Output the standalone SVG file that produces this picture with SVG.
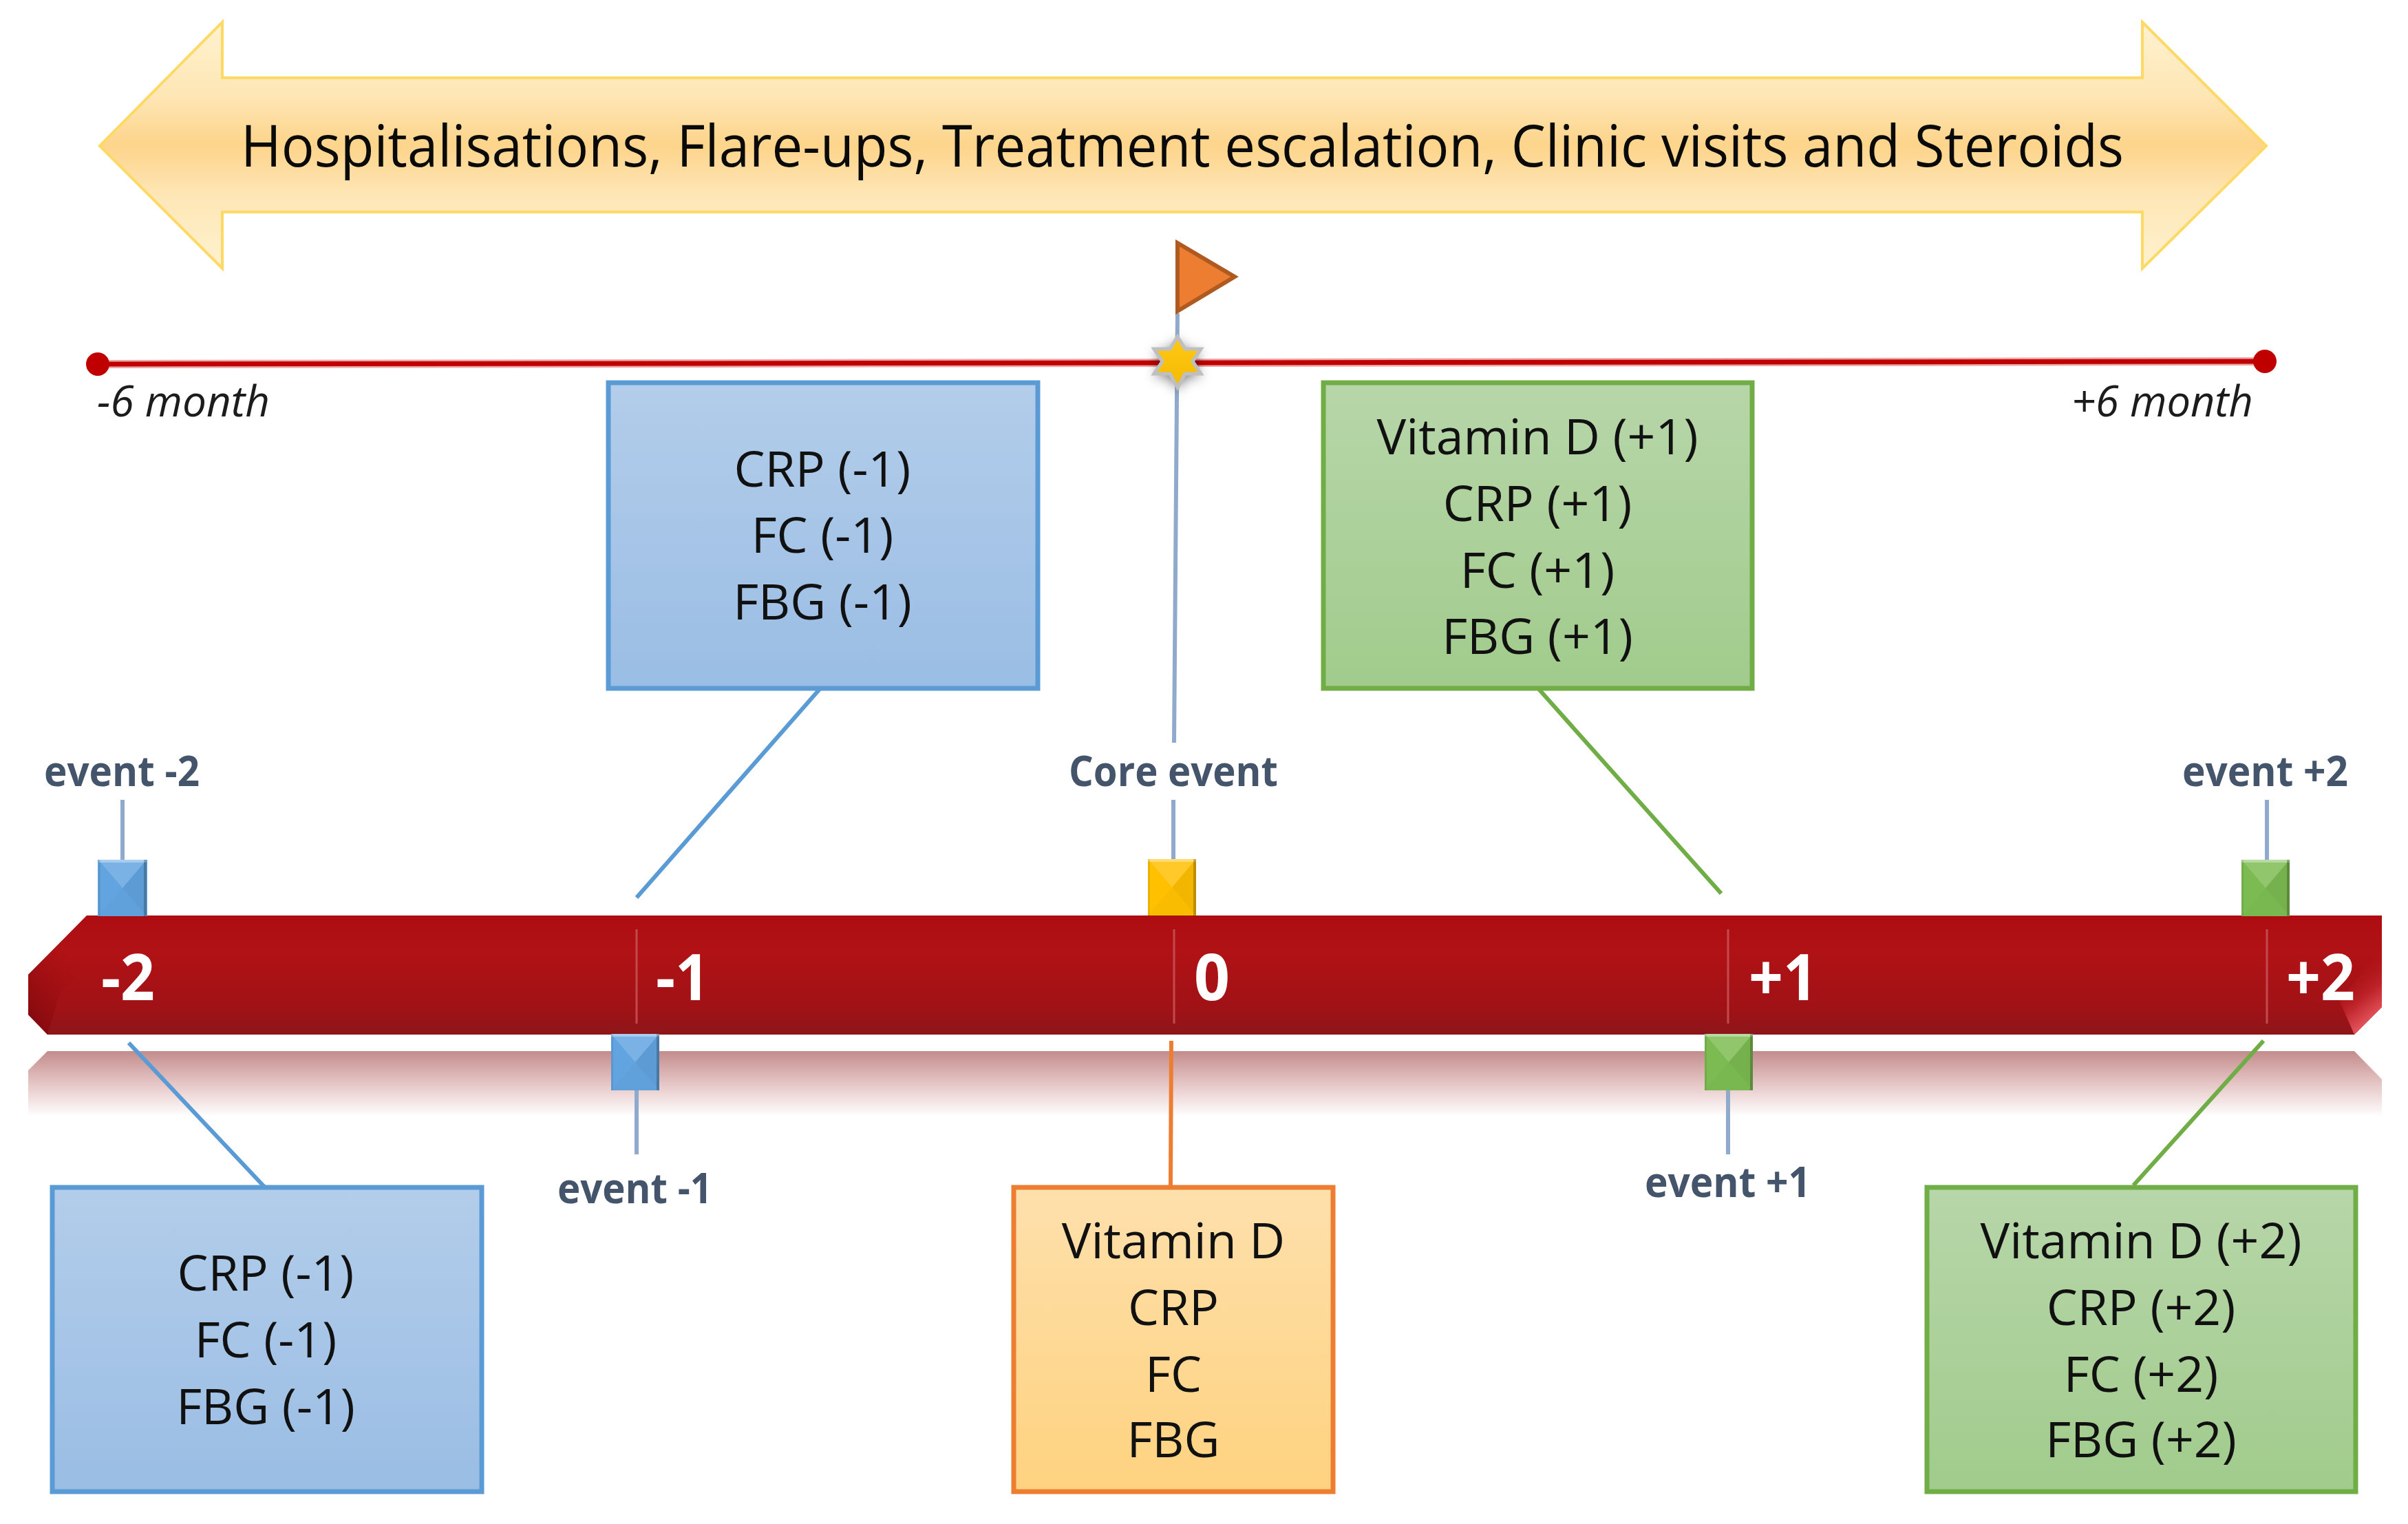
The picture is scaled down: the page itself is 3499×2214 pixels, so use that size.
<svg xmlns="http://www.w3.org/2000/svg" width="3499" height="2214" viewBox="0 0 3499 2214">
<style>
text{font-family:"Open Sans","Noto Sans","Liberation Sans",sans-serif}
.title{font-size:85px;fill:#0a0a0a}
.body{font-size:71.5px;fill:#111;text-anchor:middle}
.month{font-size:63px;font-style:italic;fill:#1c1c1c}
.ev{font-size:60px;font-weight:700;fill:#44546a}
.num{font-size:93px;font-weight:700;fill:#fff}
.stem{stroke:#8faacc;stroke-width:6;fill:none}
.tick{stroke:#c4494d;stroke-width:3;fill:none}
.lead{stroke-width:6;fill:none}
.box{stroke-width:7}
</style>
<defs>
<linearGradient id="banner" x1="0" y1="0" x2="0" y2="1"><stop offset="0" stop-color="#fff2cf"/><stop offset=".3" stop-color="#fee6b5"/><stop offset=".5" stop-color="#fdd48a"/><stop offset=".7" stop-color="#fee6b5"/><stop offset="1" stop-color="#fff2cf"/></linearGradient>
<linearGradient id="bar" x1="0" y1="0" x2="0" y2="1"><stop offset="0" stop-color="#ad0d10"/><stop offset=".3" stop-color="#b11215"/><stop offset=".8" stop-color="#9f1216"/><stop offset="1" stop-color="#8c161a"/></linearGradient>
<linearGradient id="mirror" x1="0" y1="0" x2="0" y2="1"><stop offset="0" stop-color="#c38c8c"/><stop offset=".5" stop-color="#e6c6c6"/><stop offset="1" stop-color="#ffffff"/></linearGradient>
<linearGradient id="leftEnd" gradientUnits="userSpaceOnUse" x1="45" y1="1480" x2="130" y2="1420"><stop offset="0" stop-color="#860a0e"/><stop offset="1" stop-color="#ac0f12" stop-opacity="0"/></linearGradient>
<linearGradient id="rightEnd" gradientUnits="userSpaceOnUse" x1="3443" y1="1485" x2="3395" y2="1425"><stop offset="0" stop-color="#e5545c"/><stop offset=".45" stop-color="#bc2228"/><stop offset="1" stop-color="#b11215" stop-opacity="0"/></linearGradient>
<linearGradient id="bluebox" x1="0" y1="0" x2="0" y2="1"><stop offset="0" stop-color="#b3cdea"/><stop offset="1" stop-color="#9abde4"/></linearGradient>
<linearGradient id="greenbox" x1="0" y1="0" x2="0" y2="1"><stop offset="0" stop-color="#b7d6a9"/><stop offset="1" stop-color="#a1cb8c"/></linearGradient>
<linearGradient id="orangebox" x1="0" y1="0" x2="0" y2="1"><stop offset="0" stop-color="#fee0ac"/><stop offset="1" stop-color="#fed27f"/></linearGradient>
<linearGradient id="starFill" x1="0" y1="0" x2="0" y2="1"><stop offset="0" stop-color="#ffc815"/><stop offset="1" stop-color="#f3bb00"/></linearGradient>
<filter id="soft" x="-50%" y="-50%" width="200%" height="200%"><feGaussianBlur stdDeviation="9"/></filter>
<g id="bevel">
<polygon points="0,0 70,0 35,41" fill="#fff" fill-opacity=".16"/>
<polygon points="70,0 70,82 35,41" fill="#000" fill-opacity=".05"/>
<polygon points="0,82 70,82 35,41" fill="#000" fill-opacity=".02"/>
<rect x="0" y="0" width="70" height="4" fill="#fff" fill-opacity=".35"/>
<rect x="66" y="0" width="4" height="82" fill="#000" fill-opacity=".22"/>
<rect x="0" y="0" width="3" height="82" fill="#000" fill-opacity=".08"/>
</g>
</defs>

<g id="banner-arrow">
<polygon points="145,212 323,32 323,113 3113,113 3113,32 3293,212 3113,390 3113,308 323,308 323,390" fill="url(#banner)" stroke="#ffd966" stroke-width="4"/>
<text class="title" x="350" y="242" textLength="2736" lengthAdjust="spacingAndGlyphs">Hospitalisations, Flare-ups, Treatment escalation, Clinic visits and Steroids</text>
</g>

<g id="period-line">
<line x1="142" y1="529" x2="3291" y2="525" stroke="#eda6a6" stroke-width="12"/>
<line x1="142" y1="529" x2="3291" y2="525" stroke="#c00000" stroke-width="7"/>
<circle cx="142" cy="529" r="17" fill="#c00000"/>
<circle cx="3291" cy="525" r="17" fill="#c00000"/>
<text class="month" x="141" y="605" textLength="251" lengthAdjust="spacingAndGlyphs">-6 month</text>
<text class="month" x="3010" y="605" textLength="264" lengthAdjust="spacingAndGlyphs">+6 month</text>
</g>

<g id="timeline-reflection">
<polygon points="69,1527 3421,1527 3461,1568 3461,1622 41,1622 41,1555" fill="url(#mirror)"/>
</g>

<g id="timeline-bar">
<polygon points="126,1330 3461,1330 3461,1463 3421,1503 69,1503 41,1474 41,1416" fill="url(#bar)"/>
<polygon points="126,1330 41,1416 41,1474 69,1503 88,1440 150,1390" fill="url(#leftEnd)"/>
<polygon points="3461,1375 3461,1463 3421,1503 3400,1455" fill="url(#rightEnd)"/>
<line class="tick" x1="925" y1="1350" x2="925" y2="1487"/>
<line class="tick" x1="1706" y1="1350" x2="1706" y2="1487"/>
<line class="tick" x1="2511" y1="1350" x2="2511" y2="1487"/>
<line class="tick" x1="3294" y1="1350" x2="3294" y2="1487"/>
<text class="num" x="147" y="1453" textLength="78" lengthAdjust="spacingAndGlyphs">-2</text>
<text class="num" x="953" y="1453" textLength="78" lengthAdjust="spacingAndGlyphs">-1</text>
<text class="num" x="1735" y="1453" textLength="52" lengthAdjust="spacingAndGlyphs">0</text>
<text class="num" x="2541" y="1453" textLength="100" lengthAdjust="spacingAndGlyphs">+1</text>
<text class="num" x="3322" y="1453" textLength="100" lengthAdjust="spacingAndGlyphs">+2</text>
</g>

<g id="connectors">
<line class="lead" x1="1192" y1="1000" x2="925" y2="1304" stroke="#5b9bd5"/>
<line class="lead" x1="2235" y1="1000" x2="2501" y2="1298" stroke="#70ad47"/>
<line class="lead" x1="187" y1="1515" x2="385" y2="1725" stroke="#5b9bd5"/>
<line class="lead" x1="1702" y1="1512" x2="1701" y2="1722" stroke="#ed7d31"/>
<line class="lead" x1="3289" y1="1512" x2="3100" y2="1722" stroke="#70ad47"/>
<line class="stem" x1="1711" y1="455" x2="1706" y2="1079"/>
<line class="stem" x1="1705" y1="1162" x2="1705" y2="1248"/>
<line class="stem" x1="178" y1="1162" x2="178" y2="1249"/>
<line class="stem" x1="925" y1="1584" x2="925" y2="1677"/>
<line class="stem" x1="2511" y1="1584" x2="2511" y2="1677"/>
<line class="stem" x1="3294" y1="1162" x2="3294" y2="1249"/>
</g>

<g id="core-flag">
<polygon points="1711,353 1711,452 1794,402" fill="#ed7d31" stroke="#ae5a21" stroke-width="6"/>
<polygon points="1711,493 1722,511 1745,511 1733,529 1745,547 1722,547 1711,567 1700,547 1677,547 1689,529 1677,511 1700,511" fill="#000" fill-opacity=".55" filter="url(#soft)"/>
<polygon points="1711,489 1722,507 1745,507 1733,525 1745,543 1722,543 1711,563 1700,543 1677,543 1689,525 1677,507 1700,507" fill="url(#starFill)" stroke="#bfbfbf" stroke-width="5"/>
</g>

<g id="event-minus-2">
<text class="ev" x="64" y="1142" textLength="226" lengthAdjust="spacingAndGlyphs">event -2</text>
<rect x="142" y="1249" width="72" height="82" fill="#62a4e0"/><use href="#bevel" x="143" y="1249"/>
</g>
<g id="event-minus-1">
<rect x="888" y="1502" width="70" height="82" fill="#62a4e0"/><use href="#bevel" x="888" y="1502"/>
<text class="ev" x="810" y="1748" textLength="225" lengthAdjust="spacingAndGlyphs">event -1</text>
</g>
<g id="event-core">
<text class="ev" x="1553" y="1142" textLength="304" lengthAdjust="spacingAndGlyphs">Core event</text>
<rect x="1668" y="1248" width="70" height="82" fill="#ffc000"/><use href="#bevel" x="1668" y="1248"/>
</g>
<g id="event-plus-1">
<rect x="2477" y="1502" width="70" height="82" fill="#7cbb52"/><use href="#bevel" x="2477" y="1502"/>
<text class="ev" x="2390" y="1739" textLength="241" lengthAdjust="spacingAndGlyphs">event +1</text>
</g>
<g id="event-plus-2">
<text class="ev" x="3171" y="1142" textLength="241" lengthAdjust="spacingAndGlyphs">event +2</text>
<rect x="3257" y="1249" width="70" height="82" fill="#7cbb52"/><use href="#bevel" x="3257" y="1249"/>
</g>

<g id="box-before-1">
<rect class="box" x="884" y="556" width="624" height="444" fill="url(#bluebox)" stroke="#5b9bd5"/>
<text class="body" x="1195" y="707">CRP (-1)</text>
<text class="body" x="1195" y="803">FC (-1)</text>
<text class="body" x="1195" y="900">FBG (-1)</text>
</g>
<g id="box-after-1">
<rect class="box" x="1923" y="556" width="623" height="444" fill="url(#greenbox)" stroke="#70ad47"/>
<text class="body" x="2234" y="660">Vitamin D (+1)</text>
<text class="body" x="2234" y="757">CRP (+1)</text>
<text class="body" x="2234" y="854">FC (+1)</text>
<text class="body" x="2234" y="950">FBG (+1)</text>
</g>
<g id="box-before-2">
<rect class="box" x="76" y="1725" width="624" height="442" fill="url(#bluebox)" stroke="#5b9bd5"/>
<text class="body" x="386" y="1875">CRP (-1)</text>
<text class="body" x="386" y="1972">FC (-1)</text>
<text class="body" x="386" y="2069">FBG (-1)</text>
</g>
<g id="box-core">
<rect class="box" x="1473" y="1725" width="464" height="442" fill="url(#orangebox)" stroke="#ed7d31"/>
<text class="body" x="1705" y="1828">Vitamin D</text>
<text class="body" x="1705" y="1925">CRP</text>
<text class="body" x="1705" y="2022">FC</text>
<text class="body" x="1705" y="2117">FBG</text>
</g>
<g id="box-after-2">
<rect class="box" x="2800" y="1725" width="623" height="442" fill="url(#greenbox)" stroke="#70ad47"/>
<text class="body" x="3111" y="1828">Vitamin D (+2)</text>
<text class="body" x="3111" y="1925">CRP (+2)</text>
<text class="body" x="3111" y="2022">FC (+2)</text>
<text class="body" x="3111" y="2117">FBG (+2)</text>
</g>
</svg>
